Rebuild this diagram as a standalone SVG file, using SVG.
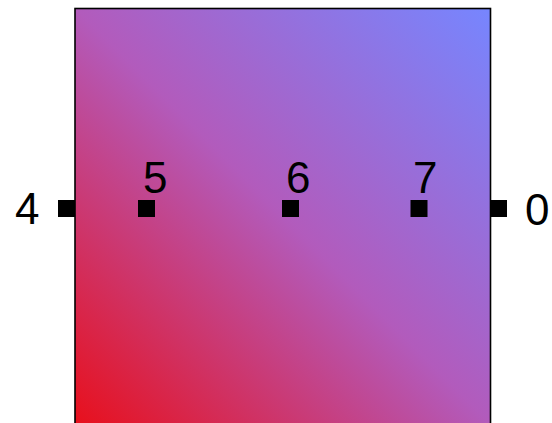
<svg xmlns="http://www.w3.org/2000/svg" width="552" height="423" viewBox="0 0 552 423">
<style>
.lbl{font-family:"Liberation Sans",Arial,sans-serif;font-size:44px;fill:#000}
.port{fill:#000}
</style>
<defs>
<linearGradient id="g" gradientUnits="userSpaceOnUse" x1="75" y1="424" x2="491" y2="8">
<stop offset="0" stop-color="#e8101c"/>
<stop offset="0.5" stop-color="#b25bbc"/>
<stop offset="1" stop-color="#7686ff"/>
</linearGradient>
</defs>
<rect width="552" height="423" fill="#fff"/>
<g id="block">
<rect x="75" y="8.5" width="415.5" height="416" fill="url(#g)" stroke="#000" stroke-width="1.6"/>
</g>
<g id="connectors"></g>
<g id="port4"><rect class="port" x="58" y="200" width="17" height="17"/><text class="lbl" x="15" y="224">4</text></g>
<g id="port5"><rect class="port" x="138" y="200" width="17" height="17"/><text class="lbl" x="143" y="193">5</text></g>
<g id="port6"><rect class="port" x="282" y="200" width="17" height="17"/><text class="lbl" x="286" y="193">6</text></g>
<g id="port7"><rect class="port" x="410.5" y="200" width="17" height="17"/><text class="lbl" x="413" y="193">7</text></g>
<g id="port0"><rect class="port" x="491" y="200" width="16" height="17"/><text class="lbl" x="525" y="225">0</text></g>
</svg>
